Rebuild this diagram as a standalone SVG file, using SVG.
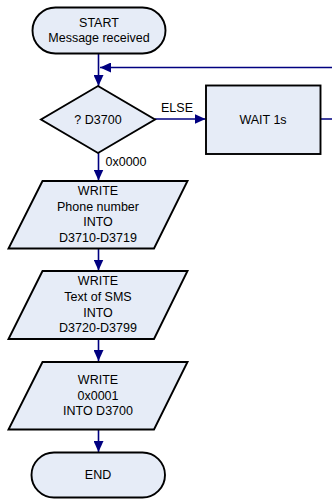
<svg xmlns="http://www.w3.org/2000/svg" width="332" height="502" viewBox="0 0 332 502">
<defs>
<marker id="ah" viewBox="0 0 11 10" refX="11" refY="5" markerWidth="11" markerHeight="10" markerUnits="userSpaceOnUse" orient="auto">
<path d="M0,0 L11,5 L0,10 z" fill="#000080"/>
</marker>
</defs>
<style>
.shape{fill:#E6ECF7;stroke:#000;stroke-width:1.9}
.box{fill:#E6ECF7;stroke:#000;stroke-width:1.9}
text{font-family:"Liberation Sans",Arial,sans-serif;font-size:12.5px;fill:#000;text-anchor:middle}
.lbl{text-anchor:start}
.conn{fill:none;stroke:#000080;stroke-width:1.6}
</style>
<rect width="332" height="502" fill="#fff"/>
<g id="connectors">
<path class="conn" d="M98.5,53.5 V86" marker-end="url(#ah)"/>
<path class="conn" d="M321,119 H345 V67.5 H100" marker-end="url(#ah)"/>
<path class="conn" d="M155,119 H205.5" marker-end="url(#ah)"/>
<path class="conn" d="M98.5,153 V180.5" marker-end="url(#ah)"/>
<path class="conn" d="M98.5,248.5 V270.5" marker-end="url(#ah)"/>
<path class="conn" d="M98.5,339 V361" marker-end="url(#ah)"/>
<path class="conn" d="M98.5,429.5 V452" marker-end="url(#ah)"/>
<text class="lbl" x="161" y="112">ELSE</text>
<text class="lbl" x="105.5" y="165.5">0x0000</text>
</g>
<g id="start">
<rect class="shape" x="32.5" y="7.5" width="133" height="46" rx="23" ry="23"/>
<text x="99" y="27">START</text>
<text x="99" y="42">Message received</text>
</g>
<g id="decision">
<polygon class="shape" points="98,86 155,119.5 98,153 41,119.5"/>
<text x="98" y="123.5">? D3700</text>
</g>
<g id="wait">
<rect class="box" x="206" y="85.5" width="114.5" height="68.5"/>
<text x="263" y="123.5">WAIT 1s</text>
</g>
<g id="write-phone">
<polygon class="shape" points="42.5,181 187.5,181 154,248.5 8.5,248.5"/>
<text x="98" y="194.5">WRITE</text>
<text x="98" y="210.5">Phone number</text>
<text x="98" y="226">INTO</text>
<text x="98" y="241.5">D3710-D3719</text>
</g>
<g id="write-sms">
<polygon class="shape" points="42.5,271 187.5,271 154,339 8.5,339"/>
<text x="98" y="284.5">WRITE</text>
<text x="98" y="300.5">Text of SMS</text>
<text x="98" y="316.5">INTO</text>
<text x="98" y="332">D3720-D3799</text>
</g>
<g id="write-flag">
<polygon class="shape" points="42.5,362 187.5,362 154,429.5 8.5,429.5"/>
<text x="98" y="384">WRITE</text>
<text x="98" y="399.5">0x0001</text>
<text x="98" y="414.5">INTO D3700</text>
</g>
<g id="end">
<rect class="shape" x="31.5" y="452.5" width="133.5" height="45" rx="22.5" ry="22.5"/>
<text x="98" y="479">END</text>
</g>
</svg>
